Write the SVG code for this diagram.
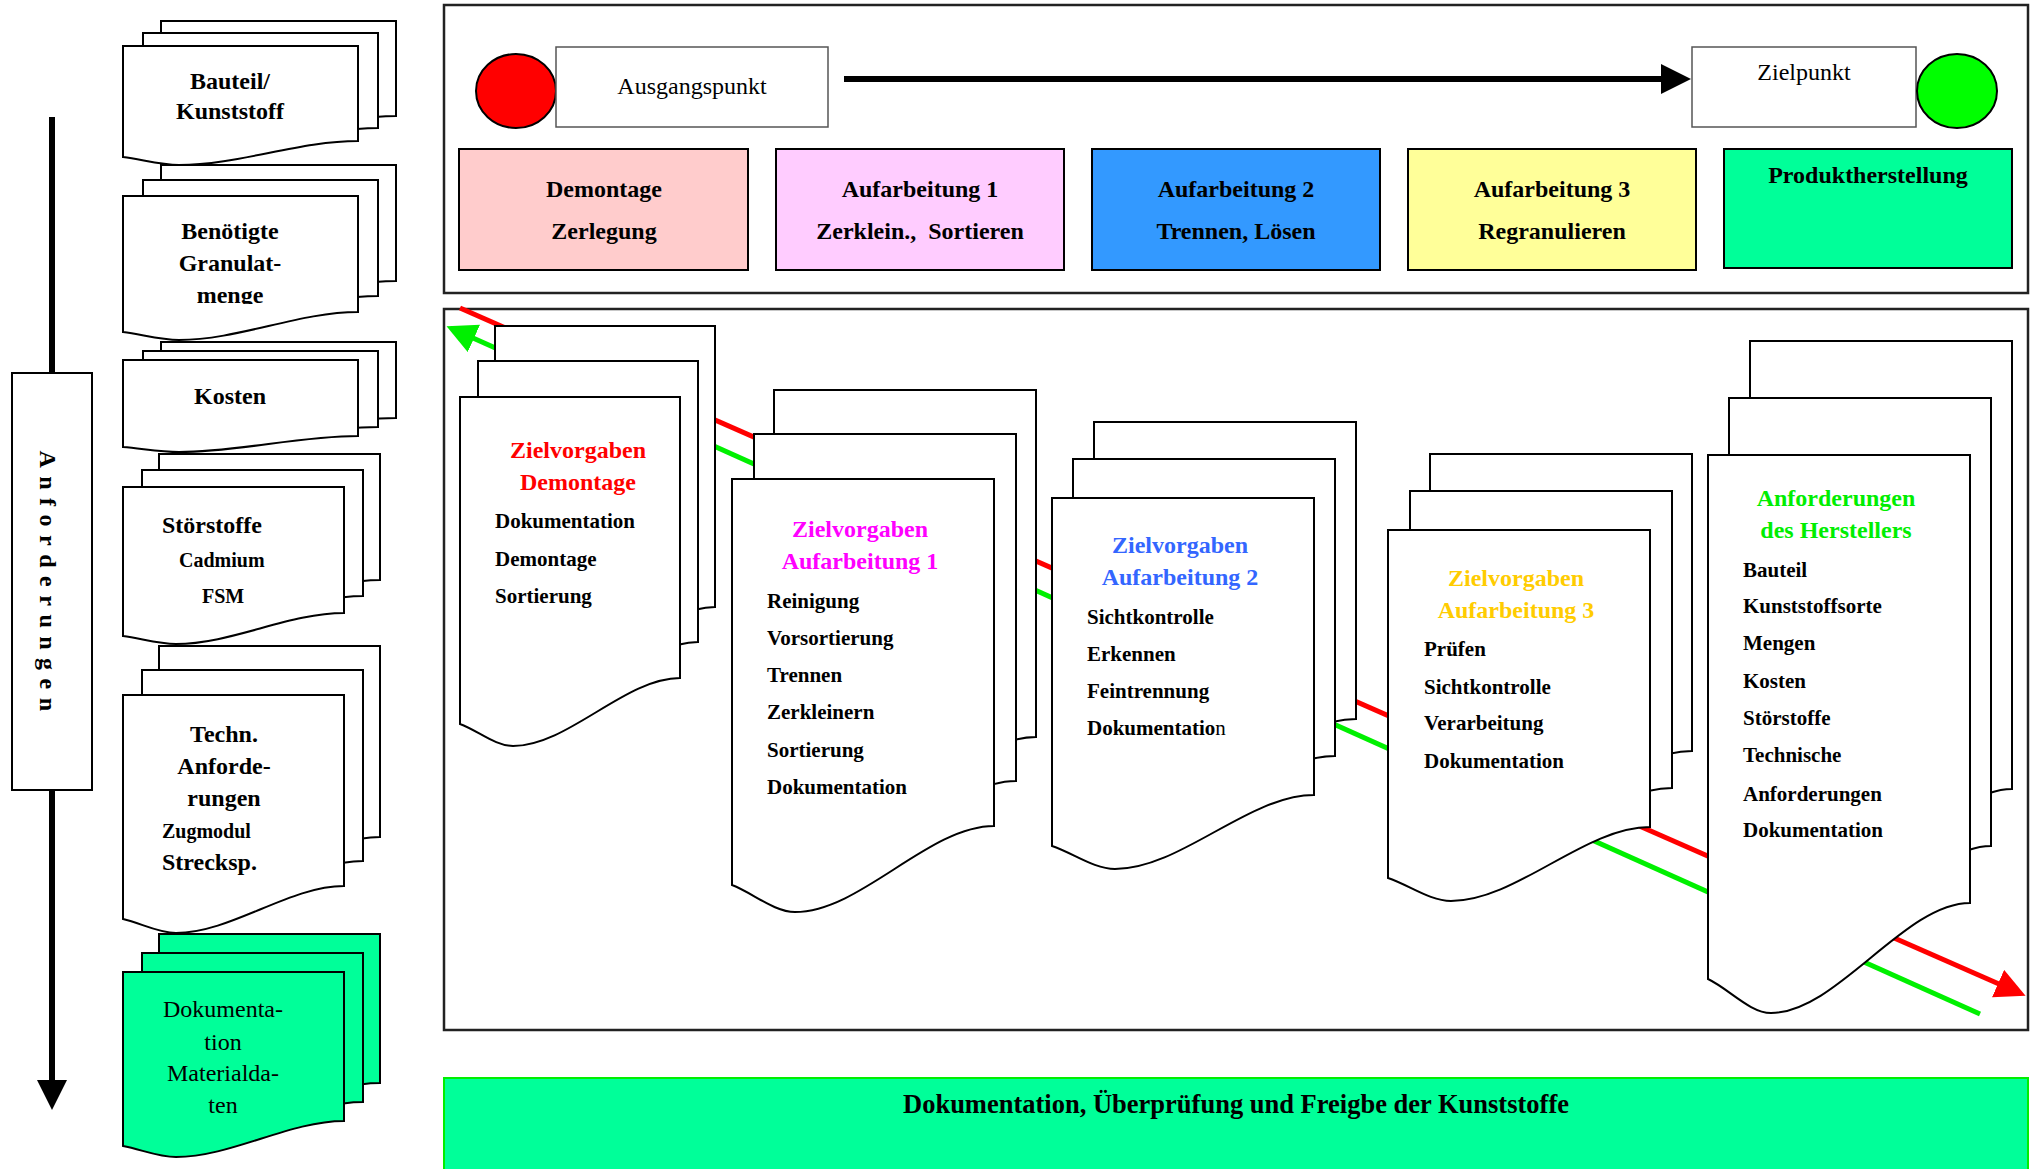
<svg xmlns="http://www.w3.org/2000/svg" width="2035" height="1169" viewBox="0 0 2035 1169">
<style>
.t{font-family:'Liberation Serif','Times New Roman',serif;font-weight:bold;font-size:24px;fill:#000}
.n{font-weight:normal}
.s21{font-size:21px}
.s20{font-size:20px}
.m{text-anchor:middle}
.doc{stroke:#000;stroke-width:2;fill:#fff}
.docg{stroke:#000;stroke-width:2;fill:#00FF99}
.box{stroke:#000;stroke-width:2}
.frame{fill:#fff;stroke:#222;stroke-width:2.5}
.lbl{fill:#fff;stroke:#555;stroke-width:1.5}
</style>
<defs>
<marker id="ahK" markerUnits="userSpaceOnUse" viewBox="0 0 30 30" markerWidth="30" markerHeight="30" refX="1" refY="15" orient="auto"><path d="M0,0 L30,15 L0,30 z" fill="#000"/></marker>
<marker id="ahR" markerUnits="userSpaceOnUse" viewBox="0 0 30 30" markerWidth="30" markerHeight="30" refX="1" refY="15" orient="auto"><path d="M0,0 L30,15 L0,30 z" fill="#FF0000"/></marker>
<marker id="ahG" markerUnits="userSpaceOnUse" viewBox="0 0 30 30" markerWidth="30" markerHeight="30" refX="1" refY="15" orient="auto"><path d="M0,0 L30,15 L0,30 z" fill="#00F000"/></marker>
<path id="dBau" d="M0,0 H235 V95 C176,95 115,119 56,119 C37,119 19,113.4 0,111 Z"/>
<path id="dBen" d="M0,0 H235 V116 C176,116 115,144 56,144 C37,144 19,138.4 0,136 Z"/>
<path id="dKos" d="M0,0 H235 V76 C176,76 115,92 56,92 C37,92 19,88.5 0,87 Z"/>
<path id="dSto" d="M0,0 H221 V126 C166,126 108,157 53,157 C35,157 18,151.4 0,149 Z"/>
<path id="dTec" d="M0,0 H221 V191 C166,191 108,238 53,238 C35,238 18,228.2 0,224 Z"/>
<path id="dDok" d="M0,0 H221 V149 C166,149 108,185 53,185 C35,185 18,177.3 0,174 Z"/>
<path id="dDem" d="M0,0 H220 V281 C165,281 108,349 53,349 C35,349 18,333.6 0,327 Z"/>
<path id="dA1" d="M0,0 H262 V347 C196.5,347 128.5,433 63,433 C42,433 21,414 0,406 Z"/>
<path id="dA2" d="M0,0 H262 V297 C196.5,297 128.5,371 63,371 C42,371 21,355 0,348 Z"/>
<path id="dAnf" d="M0,0 H262 V448 C196.5,448 128.5,558 63,558 C42,558 21,534 0,524 Z"/>
<clipPath id="cMenge"><rect x="100" y="280" width="260" height="24"/></clipPath>
</defs>

<rect width="2035" height="1169" fill="#fff"/>

<g id="top-frame"><rect class="frame" x="444" y="5" width="1584" height="288"/></g>
<g id="main-frame"><rect class="frame" x="444" y="309" width="1584" height="721"/></g>

<g id="connectors">
<line x1="844" y1="79" x2="1662" y2="79" stroke="#000" stroke-width="6" marker-end="url(#ahK)"/>
<line x1="52" y1="117" x2="52" y2="1081" stroke="#000" stroke-width="6" marker-end="url(#ahK)"/>
<line x1="460" y1="308" x2="1999" y2="984" stroke="#FF0000" stroke-width="5" marker-end="url(#ahR)"/>
<line x1="1980" y1="1014" x2="473" y2="338" stroke="#00F000" stroke-width="5" marker-end="url(#ahG)"/>
</g>

<g id="start">
<ellipse cx="516" cy="91" rx="40" ry="37" fill="#FF0000" stroke="#000" stroke-width="2"/>
<rect class="lbl" x="556" y="47" width="272" height="80"/>
<text class="t n m" x="692" y="94">Ausgangspunkt</text>
</g>
<g id="goal">
<rect class="lbl" x="1692" y="47" width="224" height="80"/>
<text class="t n m" x="1804" y="80">Zielpunkt</text>
<ellipse cx="1957" cy="91" rx="40" ry="37" fill="#00FF00" stroke="#000" stroke-width="2"/>
</g>

<g id="phase-demontage">
<rect class="box" x="459" y="149" width="289" height="121" fill="#FFCCCC"/>
<text class="t m" x="604" y="197">Demontage</text>
<text class="t m" x="604" y="239">Zerlegung</text>
</g>
<g id="phase-aufarbeitung1">
<rect class="box" x="776" y="149" width="288" height="121" fill="#FFCCFF"/>
<text class="t m" x="920" y="197">Aufarbeitung 1</text>
<text class="t m" x="920" y="239" xml:space="preserve">Zerklein.,  Sortieren</text>
</g>
<g id="phase-aufarbeitung2">
<rect class="box" x="1092" y="149" width="288" height="121" fill="#3399FF"/>
<text class="t m" x="1236" y="197">Aufarbeitung 2</text>
<text class="t m" x="1236" y="239">Trennen, Lösen</text>
</g>
<g id="phase-aufarbeitung3">
<rect class="box" x="1408" y="149" width="288" height="121" fill="#FFFF99"/>
<text class="t m" x="1552" y="197">Aufarbeitung 3</text>
<text class="t m" x="1552" y="239">Regranulieren</text>
</g>
<g id="phase-produktherstellung">
<rect class="box" x="1724" y="149" width="288" height="119" fill="#00FF99"/>
<text class="t m" x="1868" y="183">Produktherstellung</text>
</g>

<g id="anforderungen">
<rect x="12" y="373" width="80" height="417" fill="#fff" stroke="#000" stroke-width="2"/>
<text class="t" font-size="22" letter-spacing="8.5" text-anchor="middle" transform="translate(40,585) rotate(90)">Anforderungen</text>
</g>

<g id="doc-bauteil">
<use href="#dBau" class="doc" x="161" y="21"/>
<use href="#dBau" class="doc" x="143" y="33"/>
<use href="#dBau" class="doc" x="123" y="46"/>
<text class="t m" x="230" y="89">Bauteil/</text>
<text class="t m" x="230" y="119">Kunststoff</text>
</g>
<g id="doc-granulatmenge">
<use href="#dBen" class="doc" x="161" y="165"/>
<use href="#dBen" class="doc" x="143" y="180"/>
<use href="#dBen" class="doc" x="123" y="196"/>
<text class="t m" x="230" y="239">Benötigte</text>
<text class="t m" x="230" y="271">Granulat-</text>
<text class="t m" x="230" y="303" clip-path="url(#cMenge)">menge</text>
</g>
<g id="doc-kosten">
<use href="#dKos" class="doc" x="161" y="342"/>
<use href="#dKos" class="doc" x="143" y="351"/>
<use href="#dKos" class="doc" x="123" y="360"/>
<text class="t m" x="230" y="404">Kosten</text>
</g>
<g id="doc-stoerstoffe">
<use href="#dSto" class="doc" x="159" y="454"/>
<use href="#dSto" class="doc" x="142" y="470"/>
<use href="#dSto" class="doc" x="123" y="487"/>
<text class="t" x="162" y="533">Störstoffe</text>
<text class="t s20" x="179" y="567">Cadmium</text>
<text class="t s20" x="202" y="603">FSM</text>
</g>
<g id="doc-techn">
<use href="#dTec" class="doc" x="159" y="646"/>
<use href="#dTec" class="doc" x="142" y="670"/>
<use href="#dTec" class="doc" x="123" y="695"/>
<text class="t m" x="224" y="742">Techn.</text>
<text class="t m" x="224" y="774">Anforde-</text>
<text class="t m" x="224" y="806">rungen</text>
<text class="t s20" x="162" y="838">Zugmodul</text>
<text class="t" x="162" y="870">Strecksp.</text>
</g>
<g id="doc-dokumentation">
<use href="#dDok" class="docg" x="159" y="934"/>
<use href="#dDok" class="docg" x="142" y="953"/>
<use href="#dDok" class="docg" x="123" y="972"/>
<text class="t n m" x="223" y="1017">Dokumenta-</text>
<text class="t n m" x="223" y="1050">tion</text>
<text class="t n m" x="223" y="1081">Materialda-</text>
<text class="t n m" x="223" y="1113">ten</text>
</g>

<g id="zv-demontage">
<use href="#dDem" class="doc" x="495" y="326"/>
<use href="#dDem" class="doc" x="478" y="361"/>
<use href="#dDem" class="doc" x="460" y="397"/>
<text class="t m" x="578" y="458" style="fill:#FF0000">Zielvorgaben</text>
<text class="t m" x="578" y="490" style="fill:#FF0000">Demontage</text>
<text class="t s21" x="495" y="528">Dokumentation</text>
<text class="t s21" x="495" y="566">Demontage</text>
<text class="t s21" x="495" y="603">Sortierung</text>
</g>
<g id="zv-aufarbeitung1">
<use href="#dA1" class="doc" x="774" y="390"/>
<use href="#dA1" class="doc" x="754" y="434"/>
<use href="#dA1" class="doc" x="732" y="479"/>
<text class="t m" x="860" y="537" style="fill:#FF00FF">Zielvorgaben</text>
<text class="t m" x="860" y="569" style="fill:#FF00FF">Aufarbeitung 1</text>
<text class="t s21" x="767" y="608">Reinigung</text>
<text class="t s21" x="767" y="645">Vorsortierung</text>
<text class="t s21" x="767" y="682">Trennen</text>
<text class="t s21" x="767" y="719">Zerkleinern</text>
<text class="t s21" x="767" y="757">Sortierung</text>
<text class="t s21" x="767" y="794">Dokumentation</text>
</g>
<g id="zv-aufarbeitung2">
<use href="#dA2" class="doc" x="1094" y="422"/>
<use href="#dA2" class="doc" x="1073" y="459"/>
<use href="#dA2" class="doc" x="1052" y="498"/>
<text class="t m" x="1180" y="553" style="fill:#3366FF">Zielvorgaben</text>
<text class="t m" x="1180" y="585" style="fill:#3366FF">Aufarbeitung 2</text>
<text class="t s21" x="1087" y="624">Sichtkontrolle</text>
<text class="t s21" x="1087" y="661">Erkennen</text>
<text class="t s21" x="1087" y="698">Feintrennung</text>
<text class="t s21" x="1087" y="735">Dokumentatio<tspan font-weight="normal">n</tspan></text>
</g>
<g id="zv-aufarbeitung3">
<use href="#dA2" class="doc" x="1430" y="454"/>
<use href="#dA2" class="doc" x="1410" y="491"/>
<use href="#dA2" class="doc" x="1388" y="530"/>
<text class="t m" x="1516" y="586" style="fill:#FFCC00">Zielvorgaben</text>
<text class="t m" x="1516" y="618" style="fill:#FFCC00">Aufarbeitung 3</text>
<text class="t s21" x="1424" y="656">Prüfen</text>
<text class="t s21" x="1424" y="694">Sichtkontrolle</text>
<text class="t s21" x="1424" y="730">Verarbeitung</text>
<text class="t s21" x="1424" y="768">Dokumentation</text>
</g>
<g id="anf-hersteller">
<use href="#dAnf" class="doc" x="1750" y="341"/>
<use href="#dAnf" class="doc" x="1729" y="398"/>
<use href="#dAnf" class="doc" x="1708" y="455"/>
<text class="t m" x="1836" y="506" style="fill:#00EE00">Anforderungen</text>
<text class="t m" x="1836" y="538" style="fill:#00EE00">des Herstellers</text>
<text class="t s21" x="1743" y="577">Bauteil</text>
<text class="t s21" x="1743" y="613">Kunststoffsorte</text>
<text class="t s21" x="1743" y="650">Mengen</text>
<text class="t s21" x="1743" y="688">Kosten</text>
<text class="t s21" x="1743" y="725">Störstoffe</text>
<text class="t s21" x="1743" y="762">Technische</text>
<text class="t s21" x="1743" y="801">Anforderungen</text>
<text class="t s21" x="1743" y="837">Dokumentation</text>
</g>

<g id="freigabe">
<rect x="444" y="1078" width="1584" height="100" fill="#00FF99" stroke="#00EE00" stroke-width="2"/>
<text class="t m" x="1236" y="1113" font-size="26.5" style="font-size:26.5px">Dokumentation, Überprüfung und Freigbe der Kunststoffe</text>
</g>
</svg>
